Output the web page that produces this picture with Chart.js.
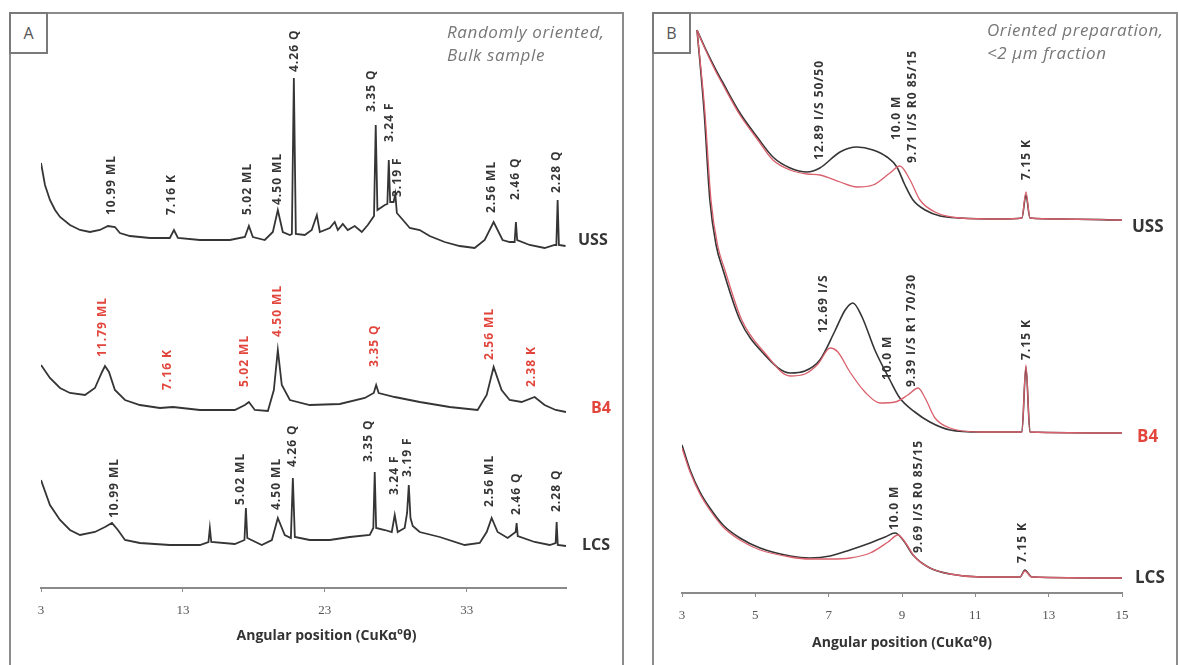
<!DOCTYPE html>
<html>
<head>
<meta charset="utf-8">
<script src="https://cdn.jsdelivr.net/npm/chart.js@4.4.1/dist/chart.umd.min.js"></script>
<style>
  body { margin: 0; width: 1179px; height: 665px; background: #fff; position: relative; overflow: hidden; }
  .frame { position: absolute; box-sizing: border-box; border: 2px solid #8c8c8c; border-bottom: none; }
  #frameA { left: 9px; top: 12px; width: 615px; height: 700px; }
  #frameB { left: 652px; top: 12px; width: 526px; height: 700px; }
  .tag { position: absolute; box-sizing: border-box; border: 2px solid #7a7a7a; width: 39px; height: 42px;
         font: 16px "Open Sans", sans-serif; color: #555; text-align: center; line-height: 38px; background: #fff; }
  #tagA { left: 9px; top: 12px; }
  #tagB { left: 652px; top: 12px; }
  .note { position: absolute; font: italic 17px "Open Sans", sans-serif; letter-spacing: 0.6px; color: #777; line-height: 23px; white-space: nowrap; }
  #noteA { left: 447px; top: 20px; }
  #noteB { left: 987px; top: 18px; }
  canvas { position: absolute; top: 0; }
  #chartA { left: 0; }
  #chartB { left: 640px; }
</style>
</head>
<body>
<div class="frame" id="frameA"></div>
<div class="frame" id="frameB"></div>
<canvas id="chartA" width="640" height="665"></canvas>
<canvas id="chartB" width="539" height="665"></canvas>
<div class="tag" id="tagA">A</div>
<div class="tag" id="tagB">B</div>
<div class="note" id="noteA">Randomly oriented,<br>Bulk sample</div>
<div class="note" id="noteB">Oriented preparation,<br>&lt;2 µm fraction</div>
<script>
// ---------- panel A : randomly oriented, bulk sample  [2θ, counts (offset)] ----------
const ticksA = [3, 13, 23, 33];
const ussA = [[3.0,425],[3.28,403],[3.63,388],[3.99,378],[4.34,371],[5.04,363],[5.75,358],[6.45,356],[7.15,358],[7.72,362],[8.21,361],[8.56,355],[9.27,352],[10.68,350],[12.08,350],[12.37,358],[12.65,350],[14.2,348],[16.31,348],[17.37,351],[17.65,362],[17.93,351],[18.77,348],[19.34,356],[19.69,378],[20.04,356],[20.54,353],[20.68,354],[20.82,510],[20.96,354],[21.59,353],[22.08,358],[22.44,373],[22.65,356],[23.35,360],[23.70,366],[23.92,358],[24.27,364],[24.62,358],[25.11,362],[25.61,356],[26.03,363],[26.47,372],[26.59,463],[26.71,378],[27.23,383],[27.41,384],[27.51,428],[27.61,386],[27.85,386],[27.97,394],[28.08,375],[28.63,366],[28.99,360],[29.69,358],[30.39,352],[31.45,346],[32.51,342],[33.56,340],[34.27,348],[34.90,366],[35.53,348],[36.03,346],[36.38,346],[36.47,366],[36.56,348],[37.44,343],[38.49,340],[39.20,343],[39.32,343],[39.41,388],[39.50,343],[39.97,342]];
const b4A = [[3.0,223],[3.63,210],[4.34,200],[5.04,195],[6.10,193],[6.80,200],[7.30,216],[7.51,222],[7.79,216],[8.21,198],[8.92,188],[9.97,183],[11.38,180],[12.30,181],[14.2,178],[16.66,178],[17.37,183],[17.65,186],[18.07,178],[18.99,177],[19.41,198],[19.69,238],[19.97,203],[20.54,188],[21.94,183],[24.06,184],[25.82,190],[26.45,195],[26.62,203],[26.80,195],[27.93,191],[29.69,186],[31.80,181],[33.77,178],[34.41,193],[34.90,221],[35.46,198],[36.03,188],[36.87,186],[37.79,191],[38.49,183],[39.27,178],[40.0,176]];
const lcsA = [[3.0,108],[3.63,83],[4.34,68],[5.04,58],[5.75,53],[6.80,56],[7.51,61],[8.0,65],[8.42,58],[8.92,48],[9.97,45],[12.08,43],[14.2,43],[14.80,46],[14.90,60],[15.00,46],[16.66,44],[17.34,48],[17.44,80],[17.54,50],[18.56,43],[19.27,48],[19.69,70],[20.18,53],[20.61,50],[20.75,110],[20.89,51],[21.94,48],[23.35,48],[24.76,51],[26.17,53],[26.42,60],[26.52,116],[26.62,60],[27.23,58],[27.72,56],[27.93,73],[28.14,56],[28.63,60],[28.80,75],[28.92,103],[29.04,70],[29.20,62],[29.69,56],[31.10,51],[32.86,43],[33.92,45],[34.41,56],[34.76,70],[35.18,56],[35.89,50],[36.45,56],[36.52,65],[36.60,52],[37.79,46],[38.85,43],[39.27,45],[39.34,66],[39.42,43],[40.0,42]];

// peak labels: [text, 2θ, level of label foot]
const ussPeaksA = [["10.99 ML",8.0,373],["7.16 K",12.22,373],["5.02 ML",17.58,373],["4.50 ML",19.69,383],["4.26 Q",20.89,516],["3.35 Q",26.31,476],["3.24 F",27.58,446],["3.19 F",28.14,391],["2.56 ML",34.76,375],["2.46 Q",36.45,388],["2.28 Q",39.34,395]];
const b4PeaksA = [["11.79 ML",7.37,231],["7.16 K",11.94,198],["5.02 ML",17.37,201],["4.50 ML",19.69,251],["3.35 Q",26.52,221],["2.56 ML",34.62,228],["2.38 K",37.58,201]];
const lcsPeaksA = [["10.99 ML",8.21,70],["5.02 ML",17.08,83],["4.50 ML",19.62,78],["4.26 Q",20.75,121],["3.35 Q",26.10,126],["3.24 F",27.93,93],["3.19 F",28.85,111],["2.56 ML",34.62,81],["2.46 Q",36.52,73],["2.28 Q",39.34,76]];

const sampleNames = ["USS", "B4", "LCS"];
const sampleLevelA = [348, 180, 43];

// ---------- panel B : oriented preparation, <2 µm fraction ----------
const ticksB = [3, 5, 7, 9, 11, 13, 15];
const ussBlackB = [[3.41,563],[3.63,545],[3.90,525],[4.12,510],[4.58,480],[5.05,456],[5.48,436],[5.95,425],[6.41,421],[6.76,425],[7.31,441],[7.77,446],[8.21,443],[8.59,436],[8.86,426],[9.08,408],[9.30,393],[9.63,383],[10.04,377],[10.58,375],[11.67,374],[12.27,375],[12.38,398],[12.49,375],[13.31,374],[15.0,373]];
const ussRedB = [[3.41,563],[3.63,544],[3.90,523],[4.12,508],[4.58,478],[5.05,454],[5.48,433],[5.95,423],[6.41,419],[6.76,418],[7.31,411],[7.77,406],[8.21,408],[8.67,420],[8.94,427],[9.22,413],[9.49,393],[9.90,381],[10.58,375],[11.67,374],[12.27,375],[12.38,401],[12.49,375],[13.31,374],[15.0,373]];
const b4BlackB = [[3.41,563],[3.60,483],[3.76,393],[3.93,348],[4.12,323],[4.58,273],[5.21,240],[5.95,220],[6.35,222],[6.76,233],[7.17,262],[7.45,283],[7.66,290],[7.91,276],[8.26,243],[8.67,213],[8.94,195],[9.35,181],[9.76,171],[10.31,163],[11.13,161],[12.27,161],[12.38,226],[12.49,161],[15.0,160]];
const b4RedB = [[3.41,563],[3.62,483],[3.79,393],[3.97,348],[4.17,323],[4.63,273],[5.26,240],[5.95,217],[6.35,219],[6.71,229],[7.04,245],[7.25,241],[7.58,221],[7.99,201],[8.40,190],[8.81,191],[9.16,198],[9.44,205],[9.63,195],[9.90,175],[10.31,165],[11.13,161],[12.27,161],[12.38,228],[12.49,161],[15.0,160]];
const lcsBlackB = [[3.0,148],[3.22,123],[3.49,101],[3.76,85],[4.12,68],[4.58,55],[5.13,45],[5.95,37],[6.49,35],[7.04,37],[7.58,43],[8.13,50],[8.54,56],[8.81,60],[9.03,53],[9.30,38],[9.76,25],[10.31,19],[11.13,16],[12.22,16],[12.35,23],[12.54,16],[15.0,15]];
const lcsRedB = [[3.0,145],[3.22,121],[3.49,99],[3.76,83],[4.12,66],[4.58,53],[5.13,43],[5.95,36],[6.49,34],[7.04,34],[7.58,35],[8.13,40],[8.62,51],[8.89,58],[9.08,51],[9.35,36],[9.76,25],[10.31,19],[11.13,16],[12.22,16],[12.35,22],[12.54,16],[15.0,15]];

const ussPeaksB = [["12.89 I/S 50/50",6.76,433],["10.0 M",8.84,453],["9.71 I/S R0 85/15",9.30,430],["7.15 K",12.41,413]];
const b4PeaksB = [["12.69 I/S",6.85,260],["10.0 M",8.62,213],["9.39 I/S R1 70/30",9.27,206],["7.15 K",12.41,233]];
const lcsPeaksB = [["10.0 M",8.81,63],["9.69 I/S R0 85/15",9.44,40],["7.15 K",12.30,30]];
const sampleLevelB = [366, 156, 15];

const INK = '#353535';
const RED = '#e2453c';
const PINK = '#d9606c';

// rotated peak labels, sample names and the axis title
const labelPlugin = {
  id: 'peakLabels',
  afterDatasetsDraw(chart, args, o) {
    const { ctx, chartArea, scales: { x, y } } = chart;
    ctx.save();
    ctx.textBaseline = 'middle';
    ctx.font = o.peakFont;
    ctx.letterSpacing = '1px';
    o.groups.forEach(g => {
      ctx.fillStyle = g.color;
      g.peaks.forEach(([txt, at, foot]) => {
        ctx.save();
        ctx.translate(x.getPixelForValue(at), y.getPixelForValue(foot));
        ctx.rotate(-Math.PI / 2);
        ctx.textAlign = 'left';
        ctx.fillText(txt, 0, 0);
        ctx.restore();
      });
    });
    ctx.letterSpacing = '0px';
    ctx.font = o.sampleFont;
    ctx.textAlign = 'left';
    sampleNames.forEach((s, i) => {
      ctx.fillStyle = o.sampleColors[i];
      ctx.fillText(s, chartArea.right + o.sampleGap[i], y.getPixelForValue(o.levels[i]));
    });
    ctx.font = '700 14px "Open Sans"';
    ctx.fillStyle = '#333';
    ctx.textAlign = 'center';
    ctx.fillText('Angular position (CuKα°θ)', (chartArea.left + chartArea.right) / 2 + o.titleShift, chartArea.bottom + o.titleDrop);
    ctx.restore();
  }
};

const line = (pts, color, width, smooth) => ({
  data: pts.map(([x, y]) => ({ x, y })),
  showLine: true,
  borderColor: color,
  borderWidth: width,
  pointRadius: 0,
  tension: 0,
  cubicInterpolationMode: smooth ? 'monotone' : 'default'
});

function panel(id, datasets, cfg) {
  return new Chart(document.getElementById(id), {
    type: 'scatter',
    data: { datasets },
    options: {
      responsive: false,
      animation: false,
      events: [],
      layout: { padding: cfg.pad },
      plugins: { legend: { display: false }, tooltip: { enabled: false }, peakLabels: cfg.labels },
      scales: {
        x: {
          type: 'linear', min: cfg.min, max: cfg.max,
          afterBuildTicks: s => { s.ticks = cfg.ticks.map(v => ({ value: v })); },
          afterFit: s => { s.height = cfg.axisHeight; },
          border: { display: true, color: '#8a8a8a', width: 2 },
          grid: { display: true, drawOnChartArea: false, drawTicks: true, tickLength: 4, color: '#8a8a8a' },
          ticks: { color: '#555', font: { family: 'Liberation Serif', size: 13 }, padding: 11, maxRotation: 0, autoSkip: false }
        },
        y: { display: false, min: 0, max: cfg.ymax }
      }
    },
    plugins: [labelPlugin]
  });
}

panel('chartA', [
  line(ussA, INK, 1.8, false),
  line(b4A, INK, 1.8, false),
  line(lcsA, INK, 1.8, false)
], {
  min: 3, max: 40, ymax: 575, ticks: ticksA, axisHeight: 60,
  pad: { left: 41, right: 74, top: 13, bottom: 17 },
  labels: {
    peakFont: '700 12px "Open Sans"',
    sampleFont: '700 16px "Open Sans"',
    groups: [{ color: INK, peaks: ussPeaksA }, { color: RED, peaks: b4PeaksA }, { color: INK, peaks: lcsPeaksA }],
    sampleColors: [INK, RED, INK], sampleGap: [12, 25, 16], levels: sampleLevelA,
    titleShift: 23, titleDrop: 48
  }
});

panel('chartB', [
  line(ussRedB, PINK, 1.3, true),
  line(ussBlackB, INK, 1.6, true),
  line(b4RedB, PINK, 1.3, true),
  line(b4BlackB, INK, 1.6, true),
  line(lcsRedB, PINK, 1.3, true),
  line(lcsBlackB, INK, 1.6, true)
], {
  min: 3, max: 15, ymax: 580, ticks: ticksB, axisHeight: 58,
  pad: { left: 42, right: 57, top: 13, bottom: 14 },
  labels: {
    peakFont: '700 12px "Open Sans"',
    sampleFont: '700 17px "Open Sans"',
    groups: [{ color: INK, peaks: ussPeaksB }, { color: INK, peaks: b4PeaksB }, { color: INK, peaks: lcsPeaksB }],
    sampleColors: [INK, RED, INK], sampleGap: [10, 15, 13], levels: sampleLevelB,
    titleShift: 0, titleDrop: 50
  }
});
</script>
</body>
</html>
